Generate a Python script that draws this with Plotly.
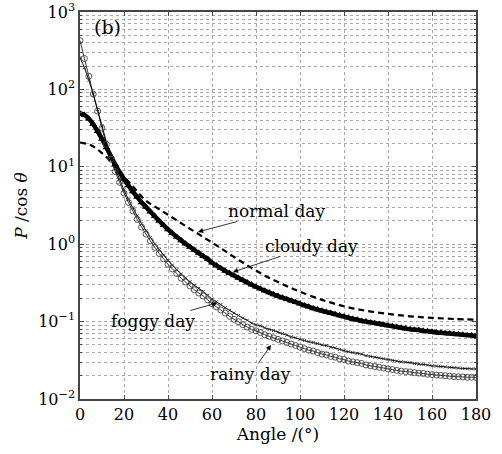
import math
import plotly.graph_objects as go

# ---------------- data ----------------
angle_2deg = list(range(0, 181, 2))

rainy_day = [427, 251, 148, 87, 52.5, 31.6, 19.5, 12.6, 8.7, 6.3,
             4.57, 3.47, 2.69, 2.09, 1.66, 1.35, 1.10, 0.912, 0.759, 0.646,
             0.550, 0.479, 0.417, 0.363, 0.324, 0.288, 0.257, 0.234, 0.214, 0.191,
             0.170, 0.155, 0.141, 0.129, 0.117, 0.107, 0.100, 0.0912, 0.0851, 0.0794,
             0.0759, 0.0724, 0.0676, 0.0646, 0.0617, 0.0589, 0.0562, 0.0537, 0.0513, 0.0490,
             0.0468, 0.0447, 0.0427, 0.0417, 0.0398, 0.0380, 0.0372, 0.0355, 0.0347, 0.0331,
             0.0324, 0.0309, 0.0302, 0.0295, 0.0288, 0.0275, 0.0269, 0.0263, 0.0257, 0.0251,
             0.0245, 0.0240, 0.0234, 0.0229, 0.0226, 0.0224, 0.0219, 0.0216, 0.0214, 0.0209,
             0.0207, 0.0204, 0.0202, 0.0200, 0.0197, 0.0195, 0.0194, 0.0193, 0.0191, 0.0191,
             0.0190]

foggy_day = [257, 191, 132, 87, 55, 33.9, 20.9, 13.5, 9.33, 6.92,
             5.01, 3.80, 2.95, 2.32, 1.84, 1.50, 1.22, 1.01, 0.851, 0.724,
             0.617, 0.537, 0.468, 0.412, 0.367, 0.327, 0.295, 0.269, 0.245, 0.219,
             0.195, 0.180, 0.166, 0.151, 0.140, 0.129, 0.120, 0.111, 0.104, 0.0955,
             0.0912, 0.0881, 0.0832, 0.0794, 0.0767, 0.0733, 0.0700, 0.0668, 0.0638, 0.0617,
             0.0589, 0.0569, 0.0550, 0.0537, 0.0519, 0.0501, 0.0490, 0.0468, 0.0457, 0.0437,
             0.0422, 0.0407, 0.0398, 0.0389, 0.0380, 0.0363, 0.0355, 0.0347, 0.0339, 0.0331,
             0.0324, 0.0316, 0.0309, 0.0302, 0.0299, 0.0295, 0.0288, 0.0282, 0.0279, 0.0275,
             0.0269, 0.0266, 0.0263, 0.0260, 0.0257, 0.0254, 0.0251, 0.0248, 0.0247, 0.0245,
             0.0245]

cloudy_day = [49.0, 46.8, 41.7, 35.5, 28.8, 22.9, 17.8, 13.8, 10.7, 8.51,
              6.92, 5.75, 4.79, 4.07, 3.47, 3.02, 2.63, 2.29, 2.00, 1.76,
              1.55, 1.38, 1.24, 1.12, 1.01, 0.923, 0.841, 0.767, 0.700, 0.646,
              0.575, 0.531, 0.490, 0.452, 0.422, 0.394, 0.367, 0.343, 0.320, 0.299,
              0.282, 0.266, 0.251, 0.237, 0.224, 0.214, 0.204, 0.195, 0.186, 0.178,
              0.170, 0.162, 0.155, 0.148, 0.143, 0.138, 0.133, 0.129, 0.124, 0.120,
              0.116, 0.112, 0.108, 0.106, 0.102, 0.100, 0.0977, 0.0955, 0.0933, 0.0912,
              0.0891, 0.0871, 0.0851, 0.0832, 0.0813, 0.0794, 0.0785, 0.0776, 0.0759, 0.0750,
              0.0741, 0.0724, 0.0716, 0.0708, 0.0700, 0.0692, 0.0684, 0.0676, 0.0668, 0.0661,
              0.0653]

angle_5deg = [0, 5, 10, 15, 20, 25, 30, 35, 40, 45, 50, 55, 60, 65, 70, 75, 80, 85, 90,
              95, 100, 110, 120, 130, 140, 150, 160, 170, 180]
normal_day = [20.5, 19.0, 15.0, 11.0, 7.5, 5.2, 3.63, 2.95, 2.40, 1.95, 1.58, 1.29, 1.05,
              0.851, 0.684, 0.556, 0.457, 0.380, 0.324, 0.279, 0.243, 0.191, 0.158, 0.138,
              0.126, 0.117, 0.112, 0.108, 0.106]

x_ticks = [0, 20, 40, 60, 80, 100, 120, 140, 160, 180]
y_tickvals = [0.01, 0.1, 1, 10, 100, 1000]
y_ticktext = ["10<sup>−2</sup>", "10<sup>−1</sup>", "10<sup>0</sup>",
              "10<sup>1</sup>", "10<sup>2</sup>", "10<sup>3</sup>"]

# ---------------- figure ----------------
FONT = "DejaVu Serif"
fig = go.Figure()

fig.add_trace(go.Scatter(
    x=angle_5deg, y=normal_day, mode="lines", name="normal day",
    line=dict(color="black", width=2.2, dash="6px,4px", shape="spline"),
))
fig.add_trace(go.Scatter(
    x=angle_2deg, y=cloudy_day, mode="lines+markers", name="cloudy day",
    line=dict(color="black", width=4.5, shape="spline"),
    marker=dict(symbol="triangle-up", size=7, color="black"),
))
fig.add_trace(go.Scatter(
    x=angle_2deg, y=foggy_day, mode="lines+markers", name="foggy day",
    line=dict(color="black", width=1, shape="spline"),
    marker=dict(symbol="x-thin", size=3, line=dict(color="#333", width=1)),
))
fig.add_trace(go.Scatter(
    x=angle_2deg, y=rainy_day, mode="lines+markers", name="rainy day",
    line=dict(color="black", width=0.8, shape="spline"),
    marker=dict(symbol="circle-open", size=6, color="#444", line=dict(width=0.9)),
))

axis_common = dict(
    showline=True, linecolor="#444", linewidth=1.5, mirror="ticks",
    ticks="inside", ticklen=4, tickcolor="#444",
    showgrid=True, gridcolor="#a8a8a8", gridwidth=1, griddash="dot",
    zeroline=False, automargin=False,
    tickfont=dict(family=FONT, size=16, color="black"),
)

fig.update_xaxes(
    range=[0, 180], tickvals=x_ticks,
    title=dict(text="Angle /(°)", font=dict(family=FONT, size=17, color="black"), standoff=4),
    **axis_common,
)
fig.update_yaxes(
    type="log", range=[-2, 3], tickvals=y_tickvals, ticktext=y_ticktext,
    title=dict(text="<i>P</i> /cos <i>θ</i>", font=dict(family=FONT, size=17, color="black"), standoff=6),
    minor=dict(ticks="inside", ticklen=2, tickcolor="#444", showgrid=True,
               gridcolor="#a8a8a8", gridwidth=1, griddash="dot", dtick="D1"),
    **axis_common,
)

ann_font = dict(family=FONT, size=17, color="black")

# panel label
fig.add_annotation(x=12.7, y=math.log10(640), text="(b)", showarrow=False,
                   font=dict(family=FONT, size=19, color="black"),
                   xanchor="center", yanchor="middle")

# labels with arrows: (text, arrow-tip angle, arrow-tip value, text offset px)
labels = [
    ("normal day", 53.6, 1.44, 79, -21),
    ("cloudy day", 69.5, 0.437, 79, -26),
    ("foggy day", 62.3, 0.174, -64, 18),
    ("rainy day", 86.8, 0.0499, -20, 29),
]
for t, xx, yy, axp, ayp in labels:
    fig.add_annotation(x=xx, y=math.log10(yy), text=t, showarrow=True, ax=axp, ay=ayp,
                       font=ann_font, borderpad=0,
                       arrowhead=2, arrowsize=1.3, arrowwidth=0.8, arrowcolor="black",
                       standoff=0, startstandoff=0)

fig.update_layout(
    width=502, height=454,
    margin=dict(l=80, r=26, t=12, b=55),
    paper_bgcolor="white", plot_bgcolor="white",
    showlegend=False,
    font=dict(family=FONT, color="black"),
)

fig.write_html(
    "out.html",
    config={"displayModeBar": False},
    post_script="document.body.style.margin='0';document.body.style.overflow='hidden';",
)
